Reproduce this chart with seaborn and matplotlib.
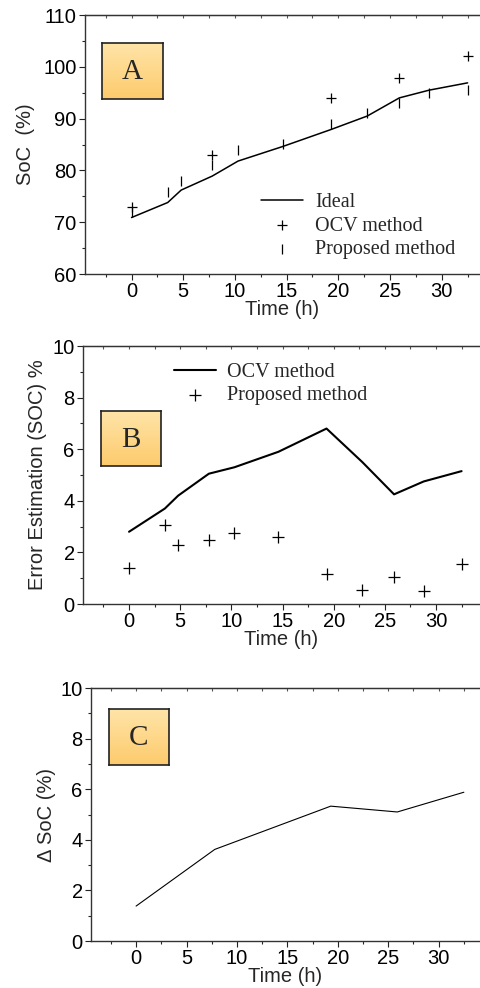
import numpy as np
import matplotlib
matplotlib.use("Agg")
import matplotlib.pyplot as plt
from matplotlib.ticker import MultipleLocator
import seaborn as sns

# panel A: SoC vs time
time_a = [0, 3.5, 4.8, 7.8, 10.3, 14.6, 19.3, 22.8, 25.9, 28.8, 32.5]
soc_ideal = [70.9, 73.8, 76.2, 78.9, 81.8, 84.6, 87.9, 90.5, 94.0, 95.5, 96.9]
time_ocv_a = [0, 7.8, 19.3, 25.9, 32.5]
soc_ocv = [72.9, 83.0, 93.9, 97.9, 102.0]
soc_proposed = [72.0, 75.9, 78.0, 81.0, 83.9, 85.1, 89.0, 91.1, 93.1, 94.9, 95.5]

# panel B: estimation error
err_ocv = [2.8, 3.7, 4.2, 5.05, 5.3, 5.9, 6.8, 5.5, 4.25, 4.75, 5.15]
err_proposed = [1.4, 3.05, 2.3, 2.5, 2.75, 2.6, 1.15, 0.55, 1.05, 0.52, 1.55]

# panel C: delta SoC
time_c = [0, 7.8, 19.3, 25.9, 32.5]
delta_soc = [1.38, 3.62, 5.33, 5.1, 5.88]

SANS = ["Liberation Sans", "DejaVu Sans"]
SERIF = ["Liberation Serif", "DejaVu Serif"]
FS = 14.5

sns.set_style("ticks")
plt.rcParams["font.family"] = SANS
plt.rcParams["font.size"] = FS

W, H = 480, 988
fig = plt.figure(figsize=(W / 100, H / 100), dpi=100)


def px_axes(left, top, right, bottom):
    return fig.add_axes([left / W, 1 - bottom / H, (right - left) / W, (bottom - top) / H])


def style_axes(ax, xlim, ylim, ymajor, yminor):
    ax.set_xlim(*xlim)
    ax.set_ylim(*ylim)
    ax.xaxis.set_minor_locator(MultipleLocator(2.5))
    ax.yaxis.set_major_locator(MultipleLocator(ymajor))
    ax.yaxis.set_minor_locator(MultipleLocator(yminor))
    ax.set_xticks(range(0, 31, 5))
    ax.tick_params(which="major", direction="out", length=4, width=0.8, labelsize=FS,
                   colors="#222222", pad=2)
    ax.tick_params(which="minor", direction="out", length=2.5, width=0.8)
    ax.tick_params(labelcolor="black")
    ax.spines["right"].set_visible(False)
    for s in ["left", "bottom", "top"]:
        ax.spines[s].set_color("#333333")
        ax.spines[s].set_linewidth(1.0)
    top = ax.secondary_xaxis("top")
    top.set_xticks(np.arange(-2.5, 34, 2.5))
    top.set_xticklabels([])
    top.tick_params(direction="in", length=2.5, width=0.8, colors="#555555")
    top.spines["top"].set_color("#333333")


def label_box(left, top, right, bottom, letter):
    bax = px_axes(left, top, right, bottom)
    grad = np.linspace(0, 1, 100).reshape(-1, 1)
    cmap = matplotlib.colors.LinearSegmentedColormap.from_list("box", ["#FFE4A8", "#FDCB6C"])
    bax.imshow(grad, aspect="auto", cmap=cmap, extent=[0, 1, 0, 1], origin="upper")
    bax.set_xticks([])
    bax.set_yticks([])
    for s in bax.spines.values():
        s.set_color("#222222")
        s.set_linewidth(1.2)
    bax.text(0.5, 0.48, letter, ha="center", va="center", fontsize=21, family=SERIF)


# ---- A ----
ax = px_axes(85, 15, 480, 274)
sns.lineplot(x=time_a, y=soc_ideal, ax=ax, color="black", lw=1.1, label="Ideal")
sns.scatterplot(x=time_ocv_a, y=soc_ocv, ax=ax, marker="+", s=60, color="black",
                linewidth=0.9, label="OCV method")
sns.scatterplot(x=time_a, y=soc_proposed, ax=ax, marker="|", s=60, color="black",
                linewidth=0.9, label="Proposed method")
style_axes(ax, (-4.5, 33.7), (60, 110), 10, 5)
ax.set_xlabel("Time (h)", fontsize=FS, labelpad=-1)
ax.set_ylabel("SoC  (%)", fontsize=FS, labelpad=6)
ax.legend(loc="upper left", bbox_to_anchor=(261 / W, 1 - 193 / H), bbox_transform=fig.transFigure,
          frameon=False, borderpad=0, borderaxespad=0, handlelength=2.1, handletextpad=0.6,
          labelspacing=0.22, prop={"family": SERIF, "size": FS})
label_box(102, 43, 163, 99, "A")

# ---- B ----
ax = px_axes(83, 346, 480, 604)
sns.lineplot(x=time_a, y=err_ocv, ax=ax, color="black", lw=1.5, label="OCV method")
sns.scatterplot(x=time_a, y=err_proposed, ax=ax, marker="+", s=80, color="black",
                linewidth=0.9, label="Proposed method")
style_axes(ax, (-4.5, 34.3), (0, 10), 2, 1)
ax.set_xlabel("Time (h)", fontsize=FS, labelpad=-1)
ax.set_ylabel("Error Estimation (SOC) %", fontsize=FS, labelpad=4)
ax.legend(loc="upper left", bbox_to_anchor=(174 / W, 1 - 363 / H), bbox_transform=fig.transFigure,
          frameon=False, borderpad=0, borderaxespad=0, handlelength=2.1, handletextpad=0.55,
          labelspacing=0.2, prop={"family": SERIF, "size": FS})
label_box(101, 411, 161, 466, "B")

# ---- C ----
ax = px_axes(91, 688, 480, 941)
sns.lineplot(x=time_c, y=delta_soc, ax=ax, color="black", lw=0.8)
style_axes(ax, (-4.47, 34.1), (0, 10), 2, 1)
ax.set_xlabel("Time (h)", fontsize=FS, labelpad=-1)
ax.set_ylabel("\u0394 SoC (%)", fontsize=FS, labelpad=3)
label_box(109, 709, 169, 765, "C")

fig.savefig("out.png", dpi=100)
